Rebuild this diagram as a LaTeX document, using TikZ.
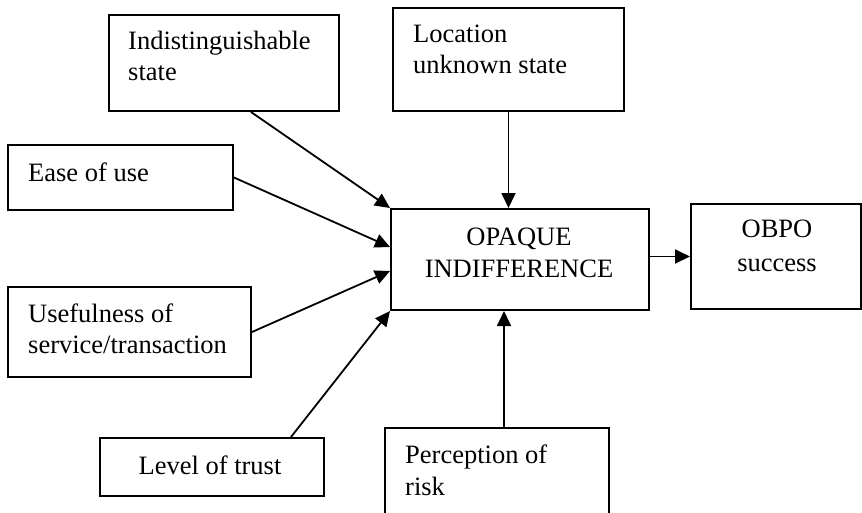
\documentclass[tikz,border=0pt]{standalone}
\usepackage{fontspec}
\setmainfont{Liberation Serif}
\usetikzlibrary{arrows.meta}
\begin{document}
\begin{tikzpicture}[x=1pt,y=-1pt,
  box/.style={draw, line width=2pt, inner sep=0pt, anchor=north west},
  lbl/.style={inner sep=0pt, font=\fontsize{26.5}{31.5}\selectfont},
  arr/.style={line width=1.8pt, -{Triangle[length=15pt,width=14pt]}}]
\useasboundingbox (0,0) rectangle (862,512);
\clip (0,0) rectangle (862,512);

% boxes
\node[box, minimum width=230pt, minimum height=96pt]  (ind)   at (108,14)  {};
\node[box, minimum width=231pt, minimum height=103pt] (loc)   at (392,7)   {};
\node[box, minimum width=225pt, minimum height=65pt]  (ease)  at (7,144)   {};
\node[box, minimum width=243pt, minimum height=90pt]  (use)   at (7,286)   {};
\node[box, minimum width=258pt, minimum height=101pt] (op)    at (390,208) {};
\node[box, minimum width=170pt, minimum height=105pt] (obpo)  at (690,203) {};
\node[box, minimum width=224pt, minimum height=58pt]  (trust) at (99,437)  {};
\node[box, minimum width=224pt, minimum height=100pt] (perc)  at (384,427) {};

% labels
\node[lbl, anchor=base west] (indA) at (128,49) {Indistinguishable};
\node[lbl, anchor=base west] (indB) at (128,80) {state};
\node[lbl, anchor=base west] (locA) at (413,42) {Location};
\node[lbl, anchor=base west] (locB) at (413,73) {unknown state};
\node[lbl, anchor=base west] (easeA) at (28,181) {Ease of use};
\node[lbl, anchor=base west] (useA) at (28,322) {Usefulness of};
\node[lbl, anchor=base west] (useB) at (28,353) {service/transaction};
\node[lbl, anchor=base] (opA) at (519,245) {OPAQUE};
\node[lbl, anchor=base] (opB) at (519,277) {INDIFFERENCE};
\node[lbl, anchor=base] (obpoA) at (777,237) {OBPO};
\node[lbl, anchor=base] (obpoB) at (777,271) {success};
\node[lbl, anchor=base] (trustA) at (210,474) {Level of trust};
\node[lbl, anchor=base west] (percA) at (405,463) {Perception of};
\node[lbl, anchor=base west] (percB) at (405,495) {risk};

% connectors
\coordinate (pr) at ([xshift=7pt]perc.north);
\draw[arr] ([xshift=27pt]ind.south) -- (op.north west);
\draw[arr] (loc.south) -- (loc.south |- op.north);
\draw[arr] (ease.east) -- ([yshift=12.5pt]op.west);
\draw[arr] (use.east) -- ([yshift=-11.5pt]op.west);
\draw[arr] ([xshift=79pt]trust.north) -- (op.south west);
\draw[arr] (pr) -- (pr |- op.south);
\draw[arr] (op.east |- obpo.west) -- (obpo.west);
\end{tikzpicture}
\end{document}
